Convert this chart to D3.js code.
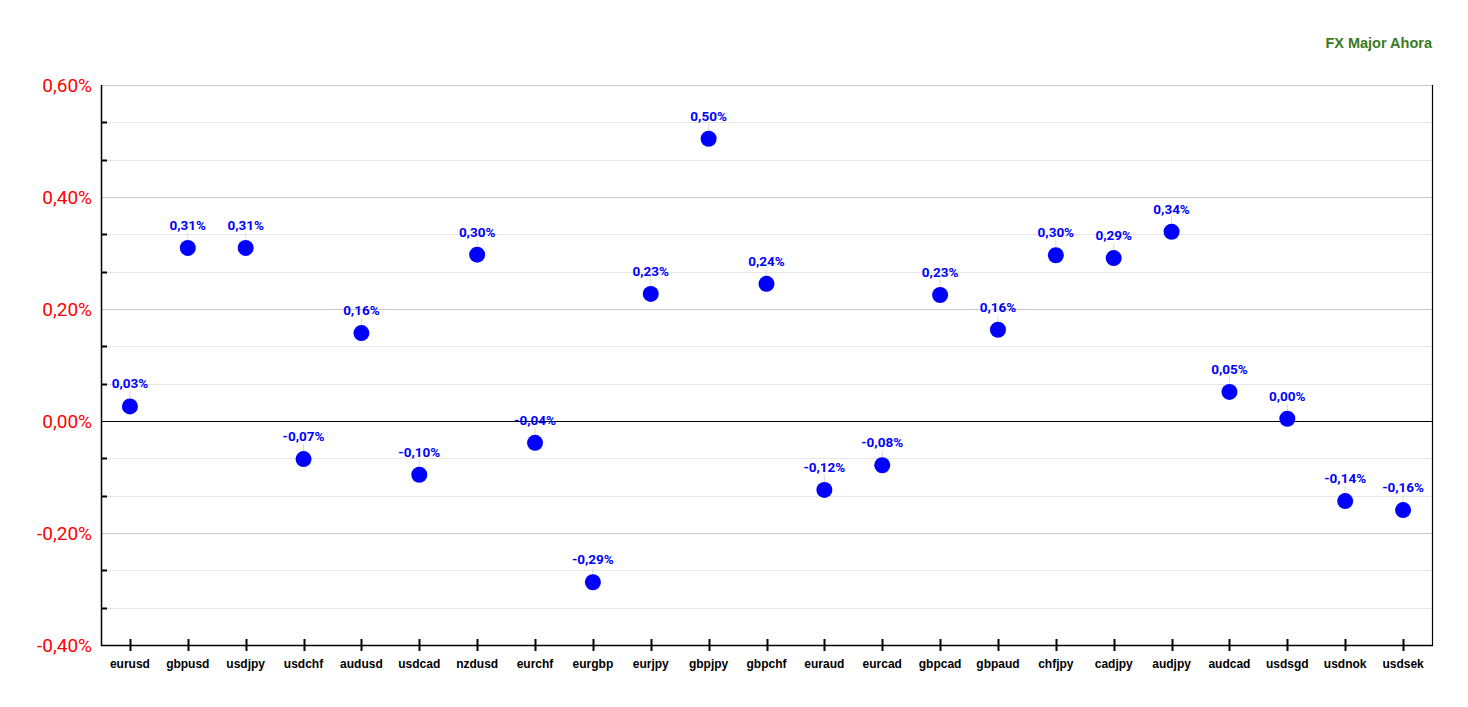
<!DOCTYPE html>
<html><head><meta charset="utf-8">
<script src="https://cdn.jsdelivr.net/npm/d3@7"></script>
<style>body{margin:0;background:#fff}svg{display:block}</style>
</head><body>
<svg id="c" width="1468" height="707"></svg>
<script>
const categories = ["eurusd","gbpusd","usdjpy","usdchf","audusd","usdcad","nzdusd","eurchf","eurgbp","eurjpy","gbpjpy","gbpchf","euraud","eurcad","gbpcad","gbpaud","chfjpy","cadjpy","audjpy","audcad","usdsgd","usdnok","usdsek"];
const values = [0.026,0.309,0.309,-0.068,0.157,-0.096,0.297,-0.039,-0.288,0.227,0.504,0.245,-0.123,-0.079,0.225,0.163,0.296,0.291,0.338,0.052,0.004,-0.143,-0.159];
const yTicks = [-0.4,-0.2,0,0.2,0.4,0.6];
const title = "FX Major Ahora";

const svg = d3.select("#c");
const L=101, R=1432, T=85, B=645;
const x = d3.scaleBand().domain(categories).range([L,R]);
const y = d3.scaleLinear().domain([-0.4,0.6]).range([B,T]);
const fmt = v => d3.format(".2f")(v).replace("−","-").replace(".",",") + "%";

// minor grid
const minor = d3.range(0,16).map(i => -0.4 + i*0.2/3);
svg.append("g").selectAll("line").data(minor).join("line")
  .attr("x1",L).attr("x2",R).attr("y1",d=>Math.round(y(d))+0.5).attr("y2",d=>Math.round(y(d))+0.5)
  .attr("stroke","#e6e6e6");
svg.append("g").selectAll("line").data(yTicks).join("line")
  .attr("x1",L).attr("x2",R).attr("y1",d=>Math.round(y(d))+0.5).attr("y2",d=>Math.round(y(d))+0.5)
  .attr("stroke",d=>d===0?"#000":"#c8c8c8");
// minor ticks on left
svg.append("g").selectAll("line").data(minor.filter((d,i)=>i%3!==0)).join("line")
  .attr("x1",L).attr("x2",L+6).attr("y1",d=>Math.round(y(d))+0.5).attr("y2",d=>Math.round(y(d))+0.5)
  .attr("stroke","#000").attr("stroke-width",2);
// axes lines
svg.append("line").attr("x1",L+0.5).attr("x2",L+0.5).attr("y1",T).attr("y2",B+1).attr("stroke","#000").attr("stroke-width",1.5);
svg.append("line").attr("x1",R+0.5).attr("x2",R+0.5).attr("y1",T).attr("y2",B+1).attr("stroke","#000").attr("stroke-width",1.2);
svg.append("line").attr("x1",L).attr("x2",R+1).attr("y1",B+0.5).attr("y2",B+0.5).attr("stroke","#000").attr("stroke-width",1.5);

// y labels
svg.append("g").selectAll("text").data(yTicks).join("text")
  .attr("x",92).attr("y",d=>y(d)+6.5).attr("text-anchor","end")
  .attr("font-family","Roboto").attr("font-size",19).attr("fill","#ff0000").text(d=>fmt(d));

// x ticks and labels
const cx = d => x(d)+x.bandwidth()/2;
svg.append("g").selectAll("line").data(categories).join("line")
  .attr("x1",d=>Math.round(cx(d))+0.5).attr("x2",d=>Math.round(cx(d))+0.5).attr("y1",639).attr("y2",651)
  .attr("stroke","#000").attr("stroke-width",2);
svg.append("g").selectAll("text").data(categories).join("text")
  .attr("x",cx).attr("y",668).attr("text-anchor","middle")
  .attr("font-family","Liberation Sans, Arial").attr("font-weight","bold").attr("font-size",12).attr("fill","#000").text(d=>d);

// points
const pts = categories.map((c,i)=>({c,v:values[i]}));
svg.append("g").selectAll("line").data(pts).join("line")
  .attr("x1",d=>cx(d.c)).attr("x2",d=>cx(d.c)).attr("y1",d=>y(d.v)-15).attr("y2",d=>y(d.v)-7)
  .attr("stroke","#d8d8d8").attr("stroke-width",1);
svg.append("g").selectAll("circle").data(pts).join("circle")
  .attr("cx",d=>cx(d.c)).attr("cy",d=>y(d.v)).attr("r",8).attr("fill","#0000ff");
svg.append("g").selectAll("text").data(pts).join("text")
  .attr("x",d=>cx(d.c)).attr("y",d=>y(d.v)-18).attr("text-anchor","middle")
  .attr("font-family","Roboto").attr("font-weight","bold").attr("font-size",13.5).attr("fill","#0000ff").text(d=>fmt(d.v));

svg.append("text").attr("x",1432).attr("y",48).attr("text-anchor","end")
  .attr("font-family","Liberation Sans, Arial").attr("font-weight","bold").attr("font-size",14.5).attr("fill","#3b7a1e").text(title);
</script>
</body></html>
